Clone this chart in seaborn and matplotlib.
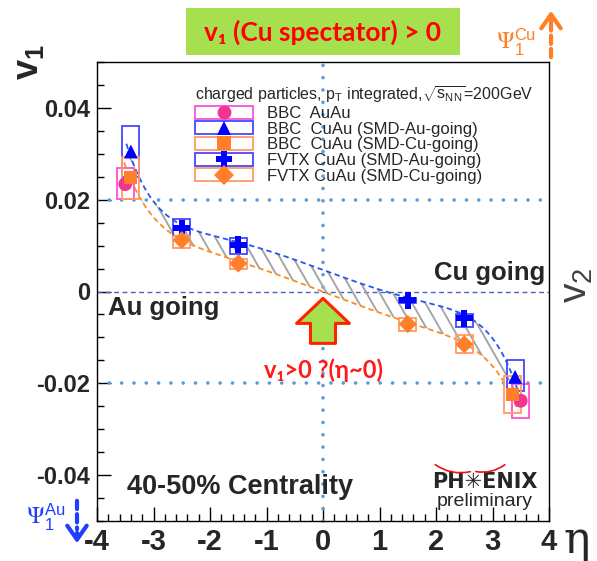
import numpy as np
import pandas as pd
import matplotlib
matplotlib.use("Agg")
import matplotlib.pyplot as plt
import seaborn as sns
from matplotlib.patches import Rectangle, FancyArrowPatch
from matplotlib.lines import Line2D
from matplotlib.collections import LineCollection
from matplotlib.legend_handler import HandlerTuple
from matplotlib.ticker import MultipleLocator

# ---------------- data ----------------
bbc_auau_eta = [-3.5, 3.5]
bbc_auau_v1 = [0.0234, -0.0238]
bbc_auau_lo = [0.0201, -0.0275]
bbc_auau_hi = [0.0268, -0.0201]

bbc_au_eta = [-3.4, 3.4]
bbc_au_v1 = [0.0305, -0.0186]
bbc_au_lo = [0.0249, -0.0216]
bbc_au_hi = [0.0361, -0.0149]

bbc_cu_eta = [-3.4, 3.35]
bbc_cu_v1 = [0.0249, -0.0225]
bbc_cu_lo = [0.0201, -0.0264]
bbc_cu_hi = [0.0292, -0.0184]

fvtx_au_eta = [-2.5, -1.5, 1.5, 2.5]
fvtx_au_v1 = [0.0138, 0.0102, -0.0019, -0.0058]
fvtx_au_lo = [0.0121, 0.0082, -0.0024, -0.0078]
fvtx_au_hi = [0.0158, 0.0117, -0.0014, -0.0050]

fvtx_cu_eta = [-2.5, -1.5, 1.5, 2.5]
fvtx_cu_v1 = [0.0112, 0.0061, -0.0071, -0.0115]
fvtx_cu_lo = [0.0095, 0.0050, -0.0086, -0.0134]
fvtx_cu_hi = [0.0122, 0.0071, -0.0058, -0.0095]

series_labels = ["BBC  AuAu", "BBC  CuAu (SMD-Au-going)", "BBC  CuAu (SMD-Cu-going)",
                 "FVTX CuAu (SMD-Au-going)", "FVTX CuAu (SMD-Cu-going)"]
x_ticks = [-4, -3, -2, -1, 0, 1, 2, 3, 4]
x_tick_labels = ["-4", "-3", "-2", "-1", "0", "1", "2", "3", "4"]
y_ticks = [-0.04, -0.02, 0.0, 0.02, 0.04]
y_tick_labels = ["-0.04", "-0.02", "0", "0.02", "0.04"]

# ---------------- style ----------------
sns.set_style("ticks")
plt.rcParams["font.family"] = ["Liberation Sans", "DejaVu Sans"]
plt.rcParams["mathtext.fontset"] = "custom"
plt.rcParams["mathtext.rm"] = "Liberation Sans"
plt.rcParams["mathtext.it"] = "Liberation Sans:italic"
plt.rcParams["mathtext.bf"] = "Liberation Sans:bold"

marker_colors = ["#f2358f", "#0000ff", "#ff7f2a", "#0000ff", "#ff7f2a"]
box_colors = ["#ff4fd0", "#4646ff", "#ff9a66", "#4646ff", "#ff9a66"]
markers = ["o", "^", "s", "P", "D"]
msizes = [100, 100, 90, 150, 85]

etas = [bbc_auau_eta, bbc_au_eta, bbc_cu_eta, fvtx_au_eta, fvtx_cu_eta]
vals = [bbc_auau_v1, bbc_au_v1, bbc_cu_v1, fvtx_au_v1, fvtx_cu_v1]
los = [bbc_auau_lo, bbc_au_lo, bbc_cu_lo, fvtx_au_lo, fvtx_cu_lo]
his = [bbc_auau_hi, bbc_au_hi, bbc_cu_hi, fvtx_au_hi, fvtx_cu_hi]

df = pd.concat([pd.DataFrame({"series": lab, "eta": e, "v1": v})
                for lab, e, v in zip(series_labels, etas, vals)], ignore_index=True)

fig = plt.figure(figsize=(5.97, 5.61), dpi=100)
ax = fig.add_axes([97 / 597, 40 / 561, 452 / 597, 459 / 561])
ax.set_facecolor("white")
ax.set_xlim(-4, 4)
ax.set_ylim(-0.05, 0.05)

# reference lines
dot = dict(color="#5b9bd5", lw=2.6, ls=(0, (0.01, 3.4)), dash_capstyle="round")
ax.axhline(0.02, **dot, zorder=1)
ax.axhline(-0.02, **dot, zorder=1)
ax.axvline(0, ymin=0, ymax=1.015, clip_on=False, **dot, zorder=1)
ax.axhline(0, color="#4a5fc1", lw=1.0, ls=(0, (3.5, 2.5)), zorder=1)


# fitted curves (least-squares fit a + b x + c x^3 + d x^7 to each group) and hatched band
def fit(xe, ye):
    xe = np.asarray(xe, float)
    X = np.vstack([np.ones_like(xe), xe, xe ** 3, xe ** 7]).T
    coef = np.linalg.lstsq(X, np.asarray(ye, float), rcond=None)[0]
    return lambda x: coef[0] + coef[1] * x + coef[2] * x ** 3 + coef[3] * x ** 7


f_au = fit(bbc_au_eta + fvtx_au_eta, bbc_au_v1 + fvtx_au_v1)
f_cu = fit(bbc_cu_eta + fvtx_cu_eta, bbc_cu_v1 + fvtx_cu_v1)
xs_au = np.linspace(-3.48, 3.45, 300)
xs_cu = np.linspace(-3.52, 3.45, 300)
xs_band = np.linspace(-3.45, 3.42, 300)
fit_df = pd.concat([
    pd.DataFrame({"eta": xs_au, "v1": f_au(xs_au), "grp": "Au"}),
    pd.DataFrame({"eta": xs_cu, "v1": f_cu(xs_cu), "grp": "Cu"}),
])
band = ax.fill_between(xs_band, f_cu(xs_band), f_au(xs_band), facecolor="none",
                       edgecolor="none", lw=0, zorder=2)
# steep diagonal hatch lines (about 60 deg on screen) clipped to the band
px_x = 452 / 8.0      # pixels per eta unit
px_y = 459 / 0.1      # pixels per v1 unit
slope = -1.75 * px_x / px_y
starts = np.arange(-7.0, 7.0, 0.235)
segs = [[(x0 + 0.06 / slope, 0.06), (x0 - 0.06 / slope, -0.06)] for x0 in starts]
hatch = LineCollection(segs, colors="#a6a6a6", linewidths=1.4, zorder=2)
ax.add_collection(hatch)
hatch.set_clip_path(band.get_paths()[0], ax.transData)

sns.lineplot(data=fit_df, x="eta", y="v1", hue="grp", palette={"Au": "#2a55ee", "Cu": "#ff8a1e"},
             estimator=None, sort=False, legend=False, lw=1.3, ax=ax, zorder=3)
for l in ax.lines[-2:]:
    l.set_linestyle((0, (3, 2)))

# systematic boxes
hw = 0.15
for e, lo, hi, bc in zip(etas, los, his, box_colors):
    for ei, l, h in zip(e, lo, hi):
        ax.add_patch(Rectangle((ei - hw, l), 2 * hw, h - l, fill=False, ec=bc, lw=1.3, zorder=4))

# markers
sns.scatterplot(data=df, x="eta", y="v1", hue="series", style="series", size="series",
                palette=dict(zip(series_labels, marker_colors)),
                markers=dict(zip(series_labels, markers)),
                sizes=dict(zip(series_labels, msizes)),
                edgecolor="none", linewidth=0, legend=False, ax=ax, zorder=5)

# axes
ax.set_xlim(-4, 4)
ax.set_ylim(-0.05, 0.05)
ax.set_xlabel("")
ax.set_ylabel("")
ax.set_xticks(x_ticks)
ax.set_xticklabels(x_tick_labels, fontsize=21, fontweight="bold")
ax.set_yticks(y_ticks)
ax.set_yticklabels(y_tick_labels, fontsize=17, fontweight="bold")
ax.xaxis.set_minor_locator(MultipleLocator(0.2))
ax.yaxis.set_minor_locator(MultipleLocator(0.005))
ax.tick_params(which="both", direction="in", top=False, right=False, width=1, color="black")
ax.tick_params(which="major", length=10, pad=5)
ax.tick_params(which="minor", length=5)
for s in ax.spines.values():
    s.set_visible(True)
    s.set_color("black")
    s.set_linewidth(1.0)

# annotations inside axes
ax.text(3.93, 0.0041, "Cu going", ha="right", va="center", fontsize=18.5, fontweight="bold")
ax.text(-3.81, -0.0035, "Au going", ha="left", va="center", fontsize=18.5, fontweight="bold")
ax.text(-3.47, -0.0426, "40-50% Centrality", ha="left", va="center", fontsize=19.5, fontweight="bold")
ax.text(2.87, -0.0415, "PH\u2733ENIX", ha="center", va="center", fontsize=15, fontweight="bold",
        family=["DejaVu Sans"])
ax.text(2.87, -0.0457, "preliminary", ha="center", va="center", fontsize=14)
ax.text(0, -0.0172, "v\u2081>0 ?(\u03b7~0)", ha="center", va="center", fontsize=17,
        fontweight="bold", color="#ff1a1a", family=["Lato", "DejaVu Sans"])
ax.annotate("", xy=(0, -0.0015), xytext=(0, -0.0113),
            arrowprops=dict(arrowstyle="simple,head_length=0.9,head_width=1.9,tail_width=0.9",
                            fc="#a6e04e", ec="#ff2200", lw=2.2, shrinkA=0, shrinkB=0,
                            mutation_scale=20), zorder=6)
# red swoosh of the PHENIX logo
fig.add_artist(FancyArrowPatch((433 / 597, 1 - 463 / 561), (473 / 597, 1 - 471 / 561),
                               transform=fig.transFigure, arrowstyle="-", lw=1.2, color="#ee1111",
                               connectionstyle="arc3,rad=0.25"))
fig.add_artist(FancyArrowPatch((473 / 597, 1 - 471 / 561), (507 / 597, 1 - 463 / 561),
                               transform=fig.transFigure, arrowstyle="-", lw=1.2, color="#ee1111",
                               connectionstyle="arc3,rad=0.25"))

# legend
handles = [(Rectangle((0, 0), 1, 1, fill=False, ec=bc, lw=1.3),
            Line2D([], [], marker=m, color=mc, ls="", ms=10 if m != "P" else 12, mew=0))
           for bc, mc, m in zip(box_colors, marker_colors, markers)]
leg = fig.legend(handles, series_labels, handler_map={tuple: HandlerTuple(ndivide=1)},
                 loc="upper left", bbox_to_anchor=(195 / 597, 1 - 85 / 561), frameon=False,
                 fontsize=12, handlelength=3.5, handleheight=0.8, handletextpad=0.8,
                 labelspacing=0.03, borderpad=0, borderaxespad=0,
                 title=r"charged particles, $\mathrm{p}_{\mathrm{T}}$ integrated,$\sqrt{\mathrm{s}_{\mathrm{NN}}}$=200GeV",
                 title_fontsize=11.5)
leg._legend_box.align = "left"

# figure level labels
fig.text(28 / 597, 1 - 62 / 561, r"$\mathbf{v_1}$", rotation=90, fontsize=26,
         ha="center", va="center")
fig.text(577 / 597, 1 - 285 / 561, r"v$_2$", rotation=90, fontsize=28, color="#404040",
         ha="center", va="center")
fig.text(577 / 597, 1 - 540 / 561, "\u03b7", fontsize=32, ha="center", va="center",
         family=["DejaVu Serif"])

# top green box
fig.patches.append(Rectangle((186 / 597, 1 - 55 / 561), 274 / 597, 47 / 561,
                             transform=fig.transFigure, fc="#a6e04e", ec="none"))
fig.text(323 / 597, 1 - 32 / 561, "v\u2081 (Cu spectator) > 0", ha="center", va="center",
         fontsize=19, fontweight="bold", color="#ff0000", family=["Lato", "DejaVu Sans"])

# Psi labels and arrows
orange = "#ff7f27"
blue = "#1f3fff"
fig.text(516 / 597, 1 - 42 / 561, r"$\Psi_{\mathregular{1}}^{\mathregular{Cu}}$", fontsize=17,
         color=orange, ha="center", va="center", math_fontfamily="stix")
fig.text(46 / 597, 1 - 517 / 561, r"$\Psi_{\mathregular{1}}^{\mathregular{Au}}$", fontsize=17,
         color=blue, ha="center", va="center", math_fontfamily="stix")
fig.add_artist(FancyArrowPatch(
    (551 / 597, 1 - 60 / 561), (551 / 597, 1 - 22 / 561), transform=fig.transFigure,
    arrowstyle="-", lw=3, color=orange, linestyle=(0, (2, 1.2))))
fig.add_artist(FancyArrowPatch(
    (551 / 597, 1 - 26 / 561), (551 / 597, 1 - 8 / 561), transform=fig.transFigure,
    arrowstyle="->,head_length=0.5,head_width=0.35", lw=3, color=orange, mutation_scale=20))
fig.add_artist(FancyArrowPatch(
    (77 / 597, 1 - 498 / 561), (77 / 597, 1 - 532 / 561), transform=fig.transFigure,
    arrowstyle="-", lw=3, color=blue, linestyle=(0, (2, 1.2))))
fig.add_artist(FancyArrowPatch(
    (77 / 597, 1 - 530 / 561), (77 / 597, 1 - 546 / 561), transform=fig.transFigure,
    arrowstyle="->,head_length=0.5,head_width=0.35", lw=3, color=blue, mutation_scale=20))

fig.savefig("out.png", dpi=100)
